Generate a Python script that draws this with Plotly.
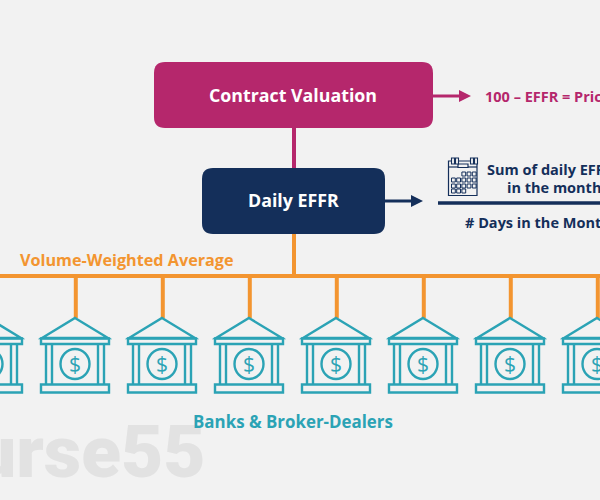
import plotly.graph_objects as go

# colours
bg = '#f2f2f2'
magenta = '#b5276c'
navy = '#142f5a'
orange = '#f39530'
teal = '#2ba3b5'
grey = '#e2e2e2'

# bank icon centres (pixels), the outer two are cut by the page edge
bank_x = [-12, 75, 162, 249, 336, 423, 510, 597]

# calendar cells: (row y, first column, number of cells)
cal_rows = [(174, 2, 3), (180, 0, 5), (186, 0, 5), (191, 0, 3)]

title_box = 'Contract Valuation'
effr_box = 'Daily EFFR'
price_text = '100 – EFFR = Price'
sum_lines = ['Sum of daily EFFR', 'in the month']
days_text = '# Days in the Month'
volume_text = 'Volume-Weighted Average'
banks_text = 'Banks & Broker-Dealers'
watermark = 'Course55'

fig = go.Figure()


def rect(x0, y0, x1, y1, color, w=0, fill=None):
    fig.add_shape(type='rect', x0=x0, y0=y0, x1=x1, y1=y1,
                  line=dict(color=color, width=w), fillcolor=fill)


def line(x0, y0, x1, y1, color, w):
    fig.add_shape(type='line', x0=x0, y0=y0, x1=x1, y1=y1, line=dict(color=color, width=w))


def path(d, color, w=0, fill=None):
    fig.add_shape(type='path', path=d, line=dict(color=color, width=w), fillcolor=fill)


def rounded(x0, y0, x1, y1, r, fill):
    d = (f'M {x0+r} {y0} L {x1-r} {y0} Q {x1} {y0} {x1} {y0+r} L {x1} {y1-r} Q {x1} {y1} {x1-r} {y1} '
         f'L {x0+r} {y1} Q {x0} {y1} {x0} {y1-r} L {x0} {y0+r} Q {x0} {y0} {x0+r} {y0} Z')
    path(d, fill, 0, fill)


def label(x, y, text, size, color, anchor='left', family='Open Sans', weight=700):
    fig.add_annotation(x=x, y=y, text=text, showarrow=False, xanchor=anchor, yanchor='middle',
                       font=dict(family=family, size=size, color=color, weight=weight))


def arrow(x0, x1, y, color):
    line(x0, y, x1 - 8, y, color, 3)
    path(f'M {x1-12} {y-6} L {x1} {y} L {x1-12} {y+6} Z', color, 0, color)


# watermark goes first so the teal caption sits over it
label(208, 452, watermark, 73, grey, 'right', family='Roboto', weight=900)

# connectors
line(294, 128, 294, 168, magenta, 4)
line(294, 234, 294, 276, orange, 4)
line(0, 276, 600, 276, orange, 4)

rounded(154, 62, 433, 128, 11, magenta)
rounded(202, 168, 385, 234, 11, navy)
label(293, 95, title_box, 17.8, 'white', 'center')
label(293, 200, effr_box, 17.8, 'white', 'center')

arrow(433, 471, 96, magenta)
arrow(385, 423, 201, navy)
label(483, 96, price_text, 14.5, magenta)

# fraction
label(485, 169, sum_lines[0], 14.5, navy)
label(505, 187, sum_lines[1], 14.5, navy)
line(438, 203, 600, 203, navy, 3.5)
label(463, 222, days_text, 14.5, navy)

# calendar icon
rect(448.5, 161, 477, 195.5, navy, 1.2)
line(448.5, 167, 477, 167, navy, 1.2)
rect(458, 164, 468, 167.5, navy, 1.2, bg)
for rx in [453, 457, 472, 476]:
    rect(rx - 1.5, 158, rx + 1.5, 164, navy, 1.1, bg)
for ry, first, n in cal_rows:
    for c in range(n):
        cx = 451.5 + 5.2 * (first + c)
        rect(cx, ry - 2, cx + 3.8, ry + 2, navy, 1)

label(18, 260, volume_text, 16.2, orange)

# banks
for bx in bank_x:
    line(bx + 0.8, 276, bx + 0.8, 318, orange, 4)
    path(f'M {bx} 318 L {bx+33} 338 L {bx-33} 338 Z', teal, 2.4)
    rect(bx - 34, 338.5, bx + 34, 344, teal, 2.4)
    for dx in [-29, -23, 23, 29]:
        line(bx + dx, 344, bx + dx, 384, teal, 2.4)
    rect(bx - 34, 384.5, bx + 34, 392.5, teal, 2.4)
    fig.add_shape(type='circle', x0=bx - 14.5, y0=349, x1=bx + 14.5, y1=379, line=dict(color=teal, width=2.4))
    label(bx, 364, '$', 21, teal, 'center', weight=400)

label(293, 421, banks_text, 16.9, teal, 'center')

fig.update_xaxes(range=[0, 600], visible=False, fixedrange=True)
fig.update_yaxes(range=[500, 0], visible=False, fixedrange=True)
fig.update_layout(width=600, height=500, margin=dict(l=0, r=0, t=0, b=0),
                  paper_bgcolor=bg, plot_bgcolor=bg, showlegend=False)

# the page default adds an 8px body margin
fig.write_html('out.html', config={'displayModeBar': False},
               post_script="document.body.style.margin='0';document.body.style.background='#f2f2f2';")
